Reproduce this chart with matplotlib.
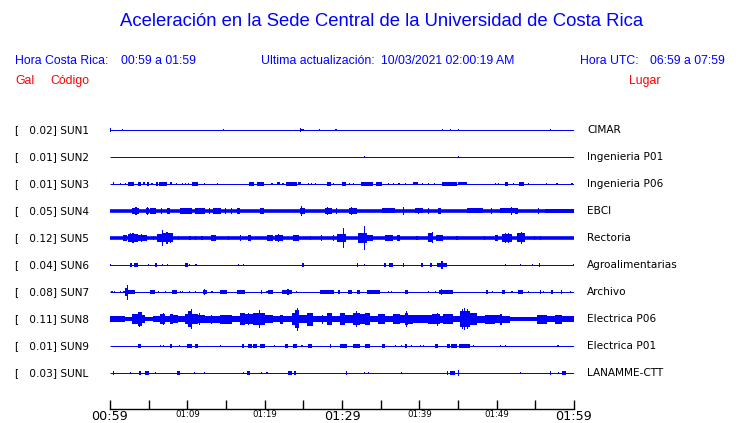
import matplotlib
matplotlib.use("Agg")
import matplotlib.pyplot as plt

# ---------------- data ----------------
title = "Aceleración en la Sede Central de la Universidad de Costa Rica"
codes = ["SUN1", "SUN2", "SUN3", "SUN4", "SUN5", "SUN6", "SUN7", "SUN8", "SUN9", "SUNL"]
peaks = [0.02, 0.01, 0.01, 0.05, 0.12, 0.04, 0.08, 0.11, 0.01, 0.03]
places = ["CIMAR", "Ingenieria P01", "Ingenieria P06", "EBCI", "Rectoria",
          "Agroalimentarias", "Archivo", "Electrica P06", "Electrica P01", "LANAMME-CTT"]

# minutes after 00:59 where ticks sit
tick_minutes = list(range(0, 61, 5))
tick_labels = ["00:59", "", "01:09", "", "01:19", "", "01:29", "", "01:39", "", "01:49", "", "01:59"]
big_labels = ["00:59", "01:29", "01:59"]

# background (noise) half-amplitude of every trace
base_amp = [0.5, 0.5, 0.5, 1.8, 1.8, 0.5, 0.5, 0.0, 0.5, 0.5]

# events: (start minute, end minute, half amplitude)
sun1 = [(0.0, 0.15, 2.3), (1.55, 1.65, 1.3), (14.6, 14.7, 1.3), (24.55, 24.75, 2.3),
        (24.75, 25.1, 1.3), (27.0, 27.1, 1.3), (29.1, 29.3, 1.3), (42.93, 43.02, 1.3),
        (43.95, 44.05, 1.3), (45.0, 45.08, 1.3), (56.9, 56.97, 1.3)]
sun2 = [(32.85, 32.95, 1.3), (45.0, 45.07, 1.0)]
sun3 = [(0.40, 0.47, 1.5), (1.26, 1.33, 1.3), (1.90, 1.97, 1.3), (2.37, 3.14, 1.7),
        (3.66, 4.01, 1.7), (4.23, 4.53, 1.5), (4.75, 5.04, 1.7), (5.36, 5.43, 1.3),
        (5.91, 6.25, 1.7), (6.34, 7.33, 1.7), (7.76, 7.98, 1.5), (8.50, 8.57, 1.3),
        (9.32, 9.39, 1.0), (9.67, 9.74, 1.0), (10.09, 10.16, 1.0), (10.64, 11.42, 1.7),
        (12.16, 12.23, 1.0), (13.84, 13.91, 1.3), (17.97, 18.58, 1.7), (18.97, 19.95, 1.7),
        (20.88, 20.95, 1.3), (21.55, 21.98, 1.5), (22.30, 22.37, 1.3), (22.76, 24.14, 1.7),
        (24.35, 24.66, 1.5), (25.61, 25.68, 1.3), (25.96, 26.03, 1.3), (26.48, 26.55, 1.0),
        (28.02, 28.54, 1.7), (28.84, 28.91, 1.3), (29.96, 30.48, 1.7), (30.91, 30.98, 1.0),
        (31.43, 31.50, 1.3), (32.45, 34.04, 1.7), (32.9, 33.05, 2.3), (34.39, 35.13, 1.7),
        (35.95, 36.02, 1.3), (36.60, 36.67, 1.3), (37.30, 37.37, 1.0), (38.11, 38.18, 1.3),
        (39.14, 39.86, 1.5), (40.35, 40.42, 1.3), (41.13, 41.20, 1.3), (41.90, 41.97, 1.3),
        (42.97, 44.83, 1.7), (45.03, 46.12, 1.5), (49.75, 49.82, 1.3), (50.18, 50.25, 1.3),
        (51.07, 51.50, 1.7), (52.12, 52.19, 1.3), (52.92, 53.53, 1.7), (54.06, 54.13, 1.3),
        (56.43, 56.50, 1.0), (57.73, 57.80, 1.0), (59.67, 59.74, 1.3)]
sun4 = [(2.8, 3.7, 2.7), (3.23, 3.53, 4.0), (4.6, 5.0, 3.0), (4.75, 4.85, 4.0),
        (5.17, 5.91, 2.7), (6.63, 6.73, 3.3), (7.33, 7.76, 2.7), (9.05, 10.64, 2.7),
        (11.0, 12.28, 2.7), (12.85, 12.95, 2.7), (13.36, 14.31, 2.7), (14.85, 14.92, 2.7),
        (15.62, 15.69, 2.7), (16.38, 16.81, 2.7), (19.4, 19.85, 2.7), (19.78, 19.86, 3.3),
        (24.57, 25.21, 2.7), (24.75, 24.85, 5.0), (27.8, 28.7, 3.0), (28.0, 28.1, 3.7),
        (29.25, 29.35, 3.0), (30.94, 31.9, 3.0), (31.1, 31.2, 3.7), (35.13, 36.85, 2.5),
        (37.88, 37.96, 3.7), (39.44, 40.51, 2.5), (39.82, 39.9, 2.9), (41.07, 41.25, 3.3),
        (42.45, 42.8, 2.9), (46.12, 48.27, 2.5), (49.22, 49.3, 2.7), (50.43, 52.37, 2.5),
        (51.8, 51.9, 3.7), (52.37, 52.79, 2.9), (55.34, 55.42, 2.7), (56.25, 60.0, 2.2)]
sun5 = [(1.72, 2.16, 2.7), (2.29, 3.66, 4.0), (2.9, 3.0, 5.3), (2.6, 2.7, 4.5),
        (3.66, 4.75, 3.0), (3.96, 4.06, 4.0), (5.57, 5.64, 2.3), (6.04, 6.9, 4.0),
        (6.72, 6.8, 8.0), (6.9, 8.2, 4.5), (7.3, 7.4, 6.0), (7.7, 7.8, 5.0),
        (8.8, 8.87, 2.3), (10.27, 10.34, 2.0), (10.96, 11.04, 2.3), (11.83, 11.9, 2.0),
        (13.06, 13.7, 2.7), (15.27, 15.34, 2.3), (16.77, 16.84, 3.0), (17.8, 18.2, 2.7),
        (20.26, 21.04, 2.7), (21.33, 22.4, 3.3), (21.7, 21.8, 3.7), (23.62, 24.48, 3.3),
        (25.83, 25.9, 2.0), (27.25, 27.32, 2.7), (28.84, 28.91, 2.7), (29.39, 30.51, 4.0),
        (30.1, 30.2, 10.0), (32.1, 33.2, 5.0), (32.8, 32.95, 12.3), (33.2, 34.05, 3.0),
        (35.56, 36.63, 3.0), (37.07, 37.5, 3.0), (39.63, 39.7, 2.3), (41.16, 41.8, 4.5),
        (41.66, 41.74, 5.5), (42.1, 43.1, 3.0), (44.8, 44.87, 2.3), (48.37, 48.44, 2.3),
        (49.78, 50.13, 3.0), (50.72, 51.94, 4.3), (51.07, 51.15, 5.3), (51.5, 51.58, 5.0),
        (52.58, 53.66, 4.5), (53.1, 53.18, 6.0), (54.83, 54.9, 2.3), (55.57, 55.64, 2.3)]
sun6 = [(0.0, 0.07, 1.3), (2.59, 2.89, 2.3), (3.1, 3.58, 1.7), (4.92, 4.99, 1.3),
        (5.82, 6.04, 2.3), (6.73, 6.8, 1.3), (7.38, 7.45, 1.3), (9.7, 10.05, 2.0),
        (10.22, 10.29, 1.3), (11.05, 11.12, 1.3), (16.56, 16.63, 1.3), (17.21, 17.28, 1.3),
        (24.87, 25.12, 1.7), (31.9, 32.1, 2.0), (32.81, 32.88, 1.3), (35.43, 35.65, 1.7),
        (36.11, 36.63, 2.0), (37.88, 37.96, 2.3), (40.27, 40.34, 1.7), (41.38, 41.6, 2.3),
        (42.24, 43.54, 2.3), (42.86, 42.94, 4.0), (51.04, 51.11, 1.3), (52.97, 53.04, 1.3),
        (54.57, 54.64, 1.0), (55.44, 55.51, 1.7), (59.87, 59.94, 1.3)]
sun7 = [(0.19, 0.26, 1.3), (0.53, 0.6, 1.0), (1.26, 1.33, 1.0), (1.72, 1.94, 1.3),
        (1.94, 2.37, 4.0), (2.15, 2.25, 7.5), (2.37, 2.8, 2.3), (2.8, 3.23, 1.7),
        (5.17, 5.82, 1.7), (6.22, 6.29, 1.3), (7.08, 7.15, 1.0), (7.98, 8.62, 2.0),
        (9.02, 9.09, 1.3), (9.32, 9.39, 1.3), (10.17, 10.24, 1.3), (10.97, 11.04, 1.3),
        (12.06, 12.5, 2.3), (12.2, 12.3, 3.3), (13.12, 13.19, 1.3), (14.22, 15.09, 2.0),
        (16.38, 17.46, 2.3), (19.57, 19.64, 1.7), (20.17, 20.47, 1.3), (20.47, 21.12, 2.3),
        (22.2, 23.5, 2.3), (22.95, 23.05, 2.7), (24.02, 24.09, 1.3), (27.15, 29.0, 2.3),
        (29.5, 29.74, 1.7), (30.8, 31.25, 1.7), (31.9, 32.3, 1.7), (33.2, 34.9, 2.0),
        (35.95, 36.02, 1.3), (36.39, 36.46, 1.3), (38.14, 38.57, 2.0), (41.13, 41.2, 1.3),
        (41.99, 42.06, 1.3), (42.54, 44.39, 2.3), (42.85, 42.95, 3.0), (48.58, 48.84, 1.7),
        (49.4, 49.47, 1.3), (50.64, 51.07, 2.3), (51.91, 51.98, 1.3), (52.72, 53.44, 2.0),
        (54.06, 54.13, 1.3), (55.57, 55.64, 1.7), (56.0, 56.07, 1.3), (57.02, 57.32, 2.0),
        (58.37, 58.44, 1.7), (59.45, 59.52, 1.3)]
sun8 = [(0.0, 0.65, 3.3), (0.65, 1.94, 3.0), (1.94, 2.8, 2.3), (2.8, 3.66, 5.0),
        (3.66, 4.1, 6.7), (3.75, 3.85, 7.5), (4.1, 4.53, 4.0), (4.53, 5.6, 1.8),
        (5.6, 6.47, 3.3), (6.47, 7.11, 5.0), (6.85, 6.95, 6.0), (7.11, 7.76, 3.0),
        (7.76, 8.18, 5.3), (8.18, 8.83, 4.3), (8.83, 9.7, 3.0), (9.7, 10.12, 5.0),
        (10.12, 10.64, 7.7), (10.42, 10.52, 10.0), (10.64, 11.42, 5.3), (11.42, 12.28, 3.7),
        (11.5, 11.7, 6.0), (12.28, 14.22, 3.5), (13.0, 13.1, 4.5), (14.22, 15.74, 4.5),
        (15.74, 16.81, 3.0), (16.81, 17.46, 5.7), (17.46, 18.53, 5.0), (17.84, 17.92, 6.0),
        (18.53, 19.62, 6.0), (19.25, 19.35, 9.0), (19.62, 20.04, 6.0), (20.04, 21.12, 4.0),
        (21.12, 21.98, 3.3), (21.98, 22.41, 4.5), (22.41, 23.49, 3.3), (23.49, 23.92, 6.0),
        (23.92, 24.48, 9.0), (24.17, 24.27, 11.5), (24.48, 25.43, 3.7), (25.43, 26.29, 6.5),
        (26.29, 27.15, 3.0), (27.15, 28.02, 3.3), (27.4, 27.5, 4.5), (28.02, 28.67, 6.0),
        (28.67, 29.74, 3.3), (29.74, 30.39, 6.0), (30.39, 31.46, 4.3), (31.46, 32.33, 6.0),
        (31.8, 31.9, 8.0), (32.33, 32.97, 5.0), (32.97, 33.62, 6.0), (33.62, 34.69, 3.0),
        (34.69, 35.56, 5.3), (35.56, 36.63, 3.3), (36.63, 37.5, 5.0), (37.5, 38.14, 4.0),
        (38.14, 38.57, 6.0), (38.3, 38.4, 8.0), (38.57, 39.22, 4.5), (39.22, 40.08, 4.0),
        (40.08, 41.16, 3.7), (41.16, 41.6, 4.5), (41.6, 42.67, 5.3), (42.27, 42.37, 6.5),
        (42.67, 43.1, 3.5), (43.1, 44.39, 5.3), (44.39, 45.26, 3.3), (45.26, 46.55, 8.0),
        (45.55, 45.62, 10.0), (45.76, 45.86, 11.0), (46.1, 46.17, 10.0), (46.55, 47.41, 6.0),
        (47.41, 48.49, 3.5), (48.49, 49.78, 4.5), (49.78, 50.43, 4.0), (50.43, 50.72, 5.5),
        (50.72, 51.72, 3.5), (51.72, 55.17, 2.0), (55.17, 56.46, 4.5), (56.46, 57.54, 3.0),
        (57.54, 58.4, 4.5), (58.4, 59.26, 3.3), (59.26, 60.0, 2.8)]
sun9 = [(3.66, 4.01, 1.7), (6.44, 6.51, 1.3), (6.87, 6.94, 1.3), (7.76, 7.98, 1.7),
        (8.89, 8.96, 1.3), (9.92, 10.64, 1.7), (11.0, 11.34, 1.7), (14.19, 14.26, 1.0),
        (17.1, 17.37, 1.7), (17.88, 18.32, 1.7), (18.53, 18.97, 1.7), (19.4, 20.04, 1.7),
        (21.17, 21.24, 1.3), (22.63, 23.05, 1.7), (23.7, 24.22, 1.7), (24.76, 24.83, 1.3),
        (25.64, 26.08, 1.7), (28.42, 28.49, 1.7), (29.74, 30.68, 1.7), (31.38, 32.33, 1.7),
        (32.97, 33.62, 1.7), (35.13, 35.56, 1.7), (36.82, 36.89, 1.3), (37.68, 37.75, 1.3),
        (38.14, 38.36, 1.7), (38.97, 39.04, 1.3), (40.05, 40.12, 1.3), (40.48, 40.55, 1.3),
        (42.02, 42.45, 1.7), (43.61, 43.96, 1.7), (44.09, 44.83, 1.7), (45.17, 46.55, 1.7),
        (46.95, 47.02, 1.3), (50.4, 50.47, 1.0), (51.04, 51.11, 1.3), (57.86, 57.93, 1.0)]
sunl = [(0.4, 0.47, 1.7), (2.56, 2.63, 1.0), (3.79, 3.97, 1.7), (4.53, 5.04, 1.7),
        (5.79, 5.86, 1.3), (8.62, 9.05, 1.7), (10.87, 10.94, 1.3), (12.16, 12.23, 1.3),
        (17.21, 17.28, 1.3), (17.67, 18.1, 1.7), (19.57, 19.64, 1.3), (20.23, 20.3, 1.0),
        (23.05, 23.5, 1.7), (23.75, 24.01, 1.7), (30.57, 30.64, 1.7), (32.85, 32.92, 1.0),
        (33.37, 33.44, 1.0), (37.68, 37.75, 1.0), (43.54, 43.7, 1.7), (43.96, 44.6, 1.7),
        (44.97, 45.05, 3.3), (52.97, 53.04, 1.0), (56.86, 56.93, 1.7), (57.94, 58.01, 1.3),
        (58.4, 58.92, 1.7)]
events = [sun1, sun2, sun3, sun4, sun5, sun6, sun7, sun8, sun9, sunl]

# ---------------- figure ----------------
W, H = 740, 423
BLUE = "#0000FF"
RED = "#FF0000"
fig = plt.figure(figsize=(W / 100, H / 100), dpi=100)

def ftxt(x, y, s, **kw):
    fig.text(x / W, 1 - y / H, s, **kw)

# axes spanning the traces (pixel frame 110..574, 118..409)
ax = fig.add_axes([110 / W, (H - 409) / H, (574 - 110) / W, (409 - 118) / H])
SPACING = 27.0
ax.set_xlim(0, 60)
ax.set_ylim(-(409 - 130), 130 - 118)

min_w = 0.14
for i, ev in enumerate(events):
    yc = -i * SPACING
    ax.hlines(yc, 0, 60, color=BLUE, linewidth=max(2 * base_amp[i], 1.0) * 0.72)
    if ev:
        x0 = [e[0] for e in ev]
        wd = [max(e[1] - e[0], min_w) for e in ev]
        hh = [2 * e[2] for e in ev]
        bt = [yc - e[2] for e in ev]
        ax.bar(x0, hh, width=wd, bottom=bt, align="edge", color=BLUE, linewidth=0)

for sp in ["top", "right", "left"]:
    ax.spines[sp].set_visible(False)
ax.spines["bottom"].set_linewidth(1.0)
ax.set_yticks([])
ax.set_xticks(tick_minutes)
ax.set_xticklabels(tick_labels)
ax.tick_params(axis="x", direction="in", length=6.5, width=1.0, pad=1.0, colors="black")
for lab in ax.get_xticklabels():
    if lab.get_text() in big_labels:
        lab.set_fontsize(9.2)
    else:
        lab.set_fontsize(6.2)
    lab.set_family("DejaVu Sans")

# titles / headers
SANS = "Liberation Sans"
HS = 8.8
ftxt(381.5, 22, title, ha="center", va="center", fontsize=13.3, color=BLUE, family=SANS)
ftxt(15, 61, "Hora Costa Rica:", ha="left", va="center", fontsize=HS, color=BLUE, family=SANS)
ftxt(121, 61, "00:59 a 01:59", ha="left", va="center", fontsize=HS, color=BLUE, family=SANS)
ftxt(261, 61, "Ultima actualización:", ha="left", va="center", fontsize=HS, color=BLUE, family=SANS)
ftxt(514, 61, "10/03/2021 02:00:19 AM", ha="right", va="center", fontsize=HS, color=BLUE, family=SANS)
ftxt(580, 61, "Hora UTC:", ha="left", va="center", fontsize=HS, color=BLUE, family=SANS)
ftxt(725, 61, "06:59 a 07:59", ha="right", va="center", fontsize=HS, color=BLUE, family=SANS)
ftxt(15, 81, "Gal", ha="left", va="center", fontsize=HS, color=RED, family=SANS)
ftxt(50, 81, "Código", ha="left", va="center", fontsize=HS, color=RED, family=SANS)
ftxt(661, 81, "Lugar", ha="right", va="center", fontsize=HS, color=RED, family=SANS)

for i, (c, p, pl) in enumerate(zip(codes, peaks, places)):
    y = 130 + i * SPACING
    ftxt(15, y, f"[   {p:.2f}] {c}", ha="left", va="center", fontsize=7.6,
         color="black", family="DejaVu Sans")
    ftxt(587, y, pl, ha="left", va="center", fontsize=7.6, color="black", family="DejaVu Sans")

fig.savefig("out.png", dpi=100)
